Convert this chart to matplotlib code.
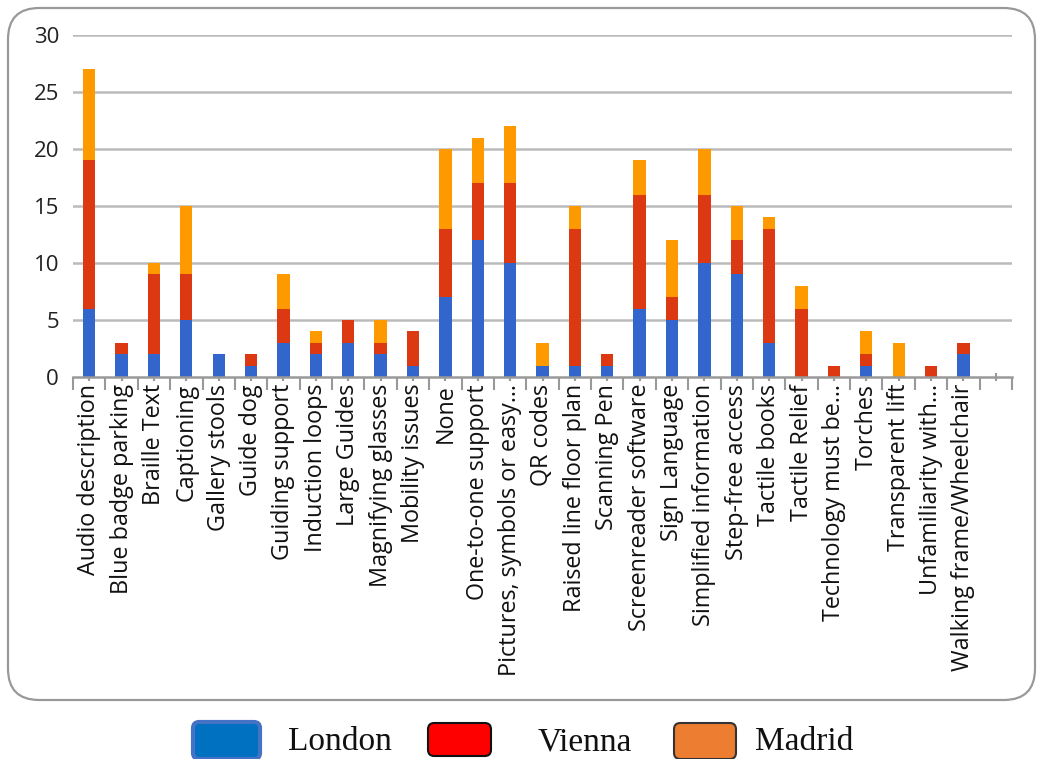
import matplotlib
matplotlib.use("Agg")
import matplotlib.pyplot as plt
from matplotlib.patches import FancyBboxPatch
import numpy as np

categories = ["Audio description", "Blue badge parking", "Braille Text", "Captioning",
              "Gallery stools", "Guide dog", "Guiding support", "Induction loops",
              "Large Guides", "Magnifying glasses", "Mobility issues", "None",
              "One-to-one support", "Pictures, symbols or easy…", "QR codes",
              "Raised line floor plan", "Scanning Pen", "Screenreader software",
              "Sign Language", "Simplified information", "Step-free access",
              "Tactile books", "Tactile Relief", "Technology must be…", "Torches",
              "Transparent lift", "Unfamiliarity with…", "Walking frame/Wheelchair", ""]
london = [6, 2, 2, 5, 2, 1, 3, 2, 3, 2, 1, 7, 12, 10, 1, 1, 1, 6, 5, 10, 9, 3, 0, 0, 1, 0, 0, 2, 0]
vienna = [13, 1, 7, 4, 0, 1, 3, 1, 2, 1, 3, 6, 5, 7, 0, 12, 1, 10, 2, 6, 3, 10, 6, 1, 1, 0, 1, 1, 0]
madrid = [8, 0, 1, 6, 0, 0, 3, 1, 0, 2, 0, 7, 4, 5, 2, 2, 0, 3, 5, 4, 3, 1, 2, 0, 2, 3, 0, 0, 0]
yticks = [0, 5, 10, 15, 20, 25, 30]
legend_labels = ["London", "Vienna", "Madrid"]

W, H = 1043, 759
fig = plt.figure(figsize=(W / 100, H / 100), dpi=100)

box = FancyBboxPatch((8 / W, 1 - 700 / H), (1035 - 8) / W, (700 - 8) / H,
                     boxstyle="round,pad=0,rounding_size=0.03",
                     transform=fig.transFigure, facecolor="none",
                     edgecolor="#999999", linewidth=1.6, mutation_aspect=W / H, zorder=-5)
fig.patches.append(box)

ax = fig.add_axes([73 / W, 1 - 377 / H, (1012 - 73) / W, (377 - 35) / H])
ax.set_facecolor("none")
ax.set_zorder(2)
x = np.arange(len(categories))
lon = np.array(london); vie = np.array(vienna); mad = np.array(madrid)
bw = 0.38
ax.bar(x, lon, bw, color="#3366CC", zorder=3)
ax.bar(x, vie, bw, bottom=lon, color="#DC3912", zorder=3)
ax.bar(x, mad, bw, bottom=lon + vie, color="#FF9900", zorder=3)

ax.set_ylim(0, 30)
ax.set_xlim(-0.5, len(categories) - 0.5)
ax.set_yticks(yticks)
ax.set_yticklabels([str(v) for v in yticks], fontsize=16, color="#222222",
                   family=["Open Sans", "DejaVu Sans"])
for v in yticks[1:]:
    ax.axhline(v, color="#BBBBBB", linewidth=1.8, zorder=1)
ax.tick_params(axis="y", length=0, pad=10)

for s in ["left", "right", "top"]:
    ax.spines[s].set_visible(False)
ax.spines["bottom"].set_color("#999999")
ax.spines["bottom"].set_linewidth(1.8)
ax.spines["bottom"].set_zorder(4)

ax.set_xticks(x)
ax.set_xticklabels(categories, rotation=90, fontsize=16.8, color="#111111",
                   family=["Open Sans", "DejaVu Sans"])
ax.tick_params(axis="x", length=6, width=1.5, color="#999999", direction="inout", pad=2)
ax.set_xticks(np.arange(-0.5, len(categories) + 0.5, 1), minor=True)
ax.tick_params(axis="x", which="minor", length=9, width=1.5, color="#999999", direction="out")

# legend
leg_items = [
    (legend_labels[0], 193, 260, 722, 759, "#0070C0", "#4472C4", 3.0, 288),
    (legend_labels[1], 428, 491, 723, 756, "#FF0000", "#111111", 1.5, 538),
    (legend_labels[2], 674, 736, 723, 759, "#ED7D31", "#333333", 1.5, 755),
]
for lab, x0, x1, y0, y1, fc, ec, lw, tx in leg_items:
    p = FancyBboxPatch((x0 / W, 1 - y1 / H), (x1 - x0) / W, (y1 - y0) / H,
                       boxstyle="round,pad=0,rounding_size=0.006",
                       transform=fig.transFigure, facecolor=fc, edgecolor=ec,
                       linewidth=lw, mutation_aspect=W / H)
    fig.patches.append(p)
    fig.text(tx / W, 1 - 742 / H, lab, fontsize=24, family="Liberation Serif",
             ha="left", va="center", color="#111111")

fig.savefig("out.png", dpi=100)
